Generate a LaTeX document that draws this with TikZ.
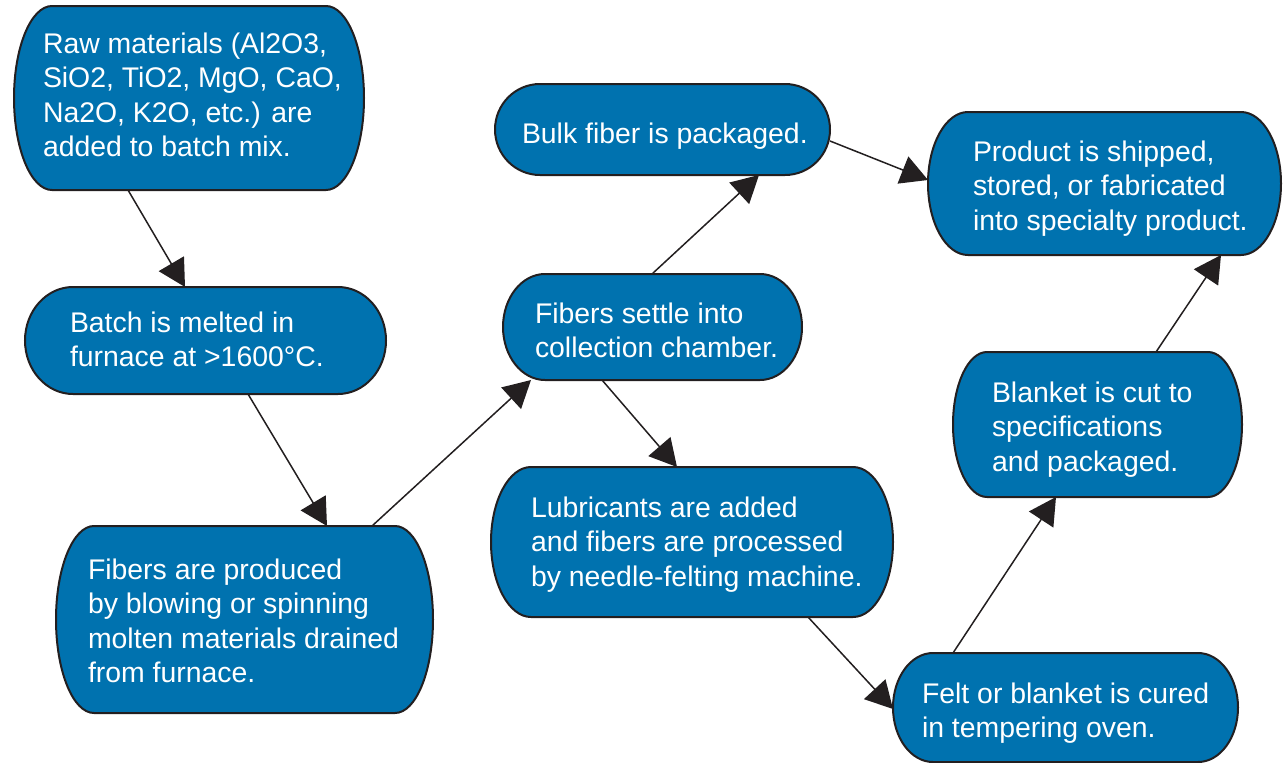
\documentclass[tikz,border=0pt]{standalone}
\usepackage{fontspec}
\setmainfont{Liberation Sans}
\usetikzlibrary{arrows.meta}
\definecolor{boxblue}{HTML}{0072AF}
\definecolor{inkdark}{HTML}{231F20}
\newcommand\flowbox[3]{%
  \draw[boxline] ([xshift=#2]#1.north west) -- ([xshift=-#2]#1.north east)
    arc[start angle=90,end angle=0,x radius=#2,y radius=#3]
    -- ([yshift=#3]#1.south east)
    arc[start angle=0,end angle=-90,x radius=#2,y radius=#3]
    -- ([xshift=#2]#1.south west)
    arc[start angle=270,end angle=180,x radius=#2,y radius=#3]
    -- ([yshift=-#3]#1.north west)
    arc[start angle=180,end angle=90,x radius=#2,y radius=#3] -- cycle;}
\newcommand\lines[1]{\begin{tabular}[t]{@{}l@{}}#1\end{tabular}}
\begin{document}
\begin{tikzpicture}[x=1pt,y=-1pt,
  boxarea/.style={rectangle,draw=none,inner sep=0pt,outer sep=0pt},
  boxline/.style={draw=inkdark,line width=2pt,fill=boxblue},
  txt/.style={inner sep=0pt,outer sep=0pt,anchor=base west,text=white,
    font=\fontsize{28.4}{34.5}\selectfont},
  arr/.style={draw=inkdark,line width=1.5pt,
    -{Triangle[length=27pt,width=29pt]},fill=inkdark}]
\useasboundingbox (0,0) rectangle (1283,763);

% boxes
\node[boxarea,minimum width=350pt,minimum height=184pt] (b1) at (189,98) {};
\flowbox{b1}{38pt}{92pt}
\node[txt] (t1) at (43,53) {\lines{Raw materials (Al2O3,\\SiO2, TiO2, MgO, CaO,\\Na2O, K2O, etc.) are\\added to batch mix.}};

\node[boxarea,minimum width=361pt,minimum height=107pt] (b2) at (205.5,340.5) {};
\flowbox{b2}{48pt}{53.5pt}
\node[txt] (t2) at (70,332) {\lines{Batch is melted in\\furnace at >1600°C.}};

\node[boxarea,minimum width=377pt,minimum height=187pt] (b3) at (244.5,619.5) {};
\flowbox{b3}{38pt}{93.5pt}
\node[txt] (t3) at (88,579) {\lines{Fibers are produced\\by blowing or spinning\\molten materials drained\\from furnace.}};

\node[boxarea,minimum width=335pt,minimum height=91pt] (b4) at (662.5,129.5) {};
\flowbox{b4}{45pt}{45.5pt}
\node[txt] (t4) at (522,143) {\lines{Bulk fiber is packaged.}};

\node[boxarea,minimum width=299pt,minimum height=106pt] (b5) at (652.5,327) {};
\flowbox{b5}{42pt}{53pt}
\node[txt] (t5) at (535,323) {\lines{Fibers settle into\\collection chamber.}};

\node[boxarea,minimum width=402pt,minimum height=150pt] (b6) at (692,542) {};
\flowbox{b6}{40pt}{75pt}
\node[txt] (t6) at (531,517) {\lines{Lubricants are added\\and fibers are processed\\by needle-felting machine.}};

\node[boxarea,minimum width=353pt,minimum height=143pt] (b7) at (1104.5,183.5) {};
\flowbox{b7}{40pt}{71.5pt}
\node[txt] (t7) at (973,161) {\lines{Product is shipped,\\stored, or fabricated\\into specialty product.}};

\node[boxarea,minimum width=289pt,minimum height=145pt] (b8) at (1097.5,424.5) {};
\flowbox{b8}{34pt}{72.5pt}
\node[txt] (t8) at (992,402) {\lines{Blanket is cut to\\specifications\\and packaged.}};

\node[boxarea,minimum width=345pt,minimum height=109pt] (b9) at (1065.5,707.5) {};
\flowbox{b9}{40pt}{54.5pt}
\node[txt] (t9) at (922,703) {\lines{Felt or blanket is cured\\in tempering oven.}};

% connectors
\draw[arr] ([xshift=114pt]b1.south west) -- ([xshift=160pt]b2.north west);
\draw[arr] ([xshift=223pt]b2.south west) -- ([xshift=271pt]b3.north west);
\draw[arr] ([xshift=316pt]b3.north west) -- ([xshift=28pt]b5.south west);
\draw[arr] ([xshift=149pt]b5.north west) -- ([xshift=264pt]b4.south west);
\draw[arr] ([yshift=-11.5pt]b4.east) -- ([yshift=3.5pt]b7.west);
\draw[arr] ([xshift=99pt]b5.south west) -- ([xshift=186pt]b6.north west);
\draw[arr] ([xshift=317pt]b6.south west) -- ([yshift=-1.5pt]b9.west);
\draw[arr] ([xshift=60pt]b9.north west) -- ([xshift=103pt]b8.south west);
\draw[arr] ([xshift=203pt]b8.north west) -- ([xshift=293pt]b7.south west);
\end{tikzpicture}
\end{document}
